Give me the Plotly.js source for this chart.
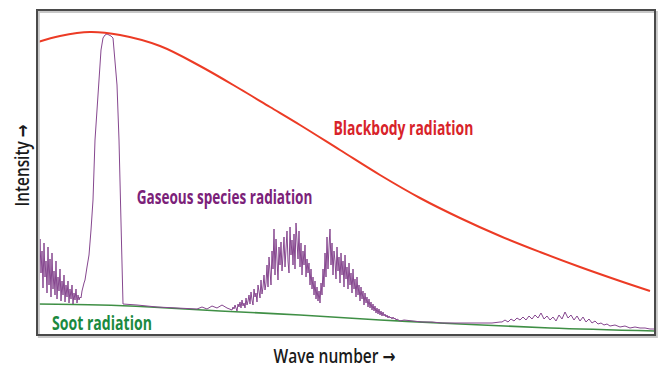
<!DOCTYPE html>
<html>
<head>
<meta charset="utf-8">
<script src="https://cdn.plot.ly/plotly-3.0.1.min.js"></script>
<style>html,body{margin:0;padding:0;background:#fff;}#chart{width:663px;height:368px;}</style>
</head>
<body>
<div id="chart"></div>
<script>
// Arbitrary units (no tick labels in the original)
const blackbodyX = [1, 23, 53, 83, 123, 163, 203, 233, 263, 303, 343, 383, 423, 463, 503, 543, 583, 613];
const blackbodyY = [293, 299, 303, 300, 289, 269, 246, 228, 210, 185, 160, 137, 117, 99, 83, 68, 54, 44];

const sootX = [0, 63, 113, 183, 263, 343, 423, 513, 618];
const sootY = [31, 30, 28, 24, 20, 15, 11, 7, 4];

// gaseous species spectrum: low-wavenumber band, strong band, mid hump, weak far hump
const gasLowX = [0,1,2,3,4,5,6,7,8,9,10,11,12,13,14,15,16,17,18,19,20,21,22,23,24,25,26,27,28,29,30,31,32,33,34,35,36,37,38,39,40,41,42,43,44,45];
const gasLowY = [70,108,55,96,62,84,47,92,58,74,42,88,50,76,38,82,46,64,40,74,36,58,44,66,34,54,40,60,33,50,38,54,32,46,36,50,31,42,35,46,32,40,35,38,37,44];

const gasBandX = [47,48,50,52,54,56,58,60,62,64,66,68,70,72,74,76,78,80,82,83,84,85,85.5,86,100,120,140,160,165,170,175,180,185,190];
const gasBandY = [52,55,68,80,105,135,195,230,255,285,297,300,301,300,299,297,275,250,195,150,100,60,32,31,30,28,27,26,28,26,29,27,30,27];

const gasMidX = [195,196,197,198,199,200,201,202,203,204,205,206,207,208,209,210,211,212,213,214,215,216,217,218,219,220,221,222,223,224,225,226,227,228,229,230,231,232,233,234,235,236,237,238,239,240,241,242,243,244,245,246,247,248,249,250,251,252,253,254,255,256,257,258,259,260,261,262,263,264,265,266,267,268,269,270,271,272,273,274,275,276,277,278,279,280,281,282,283,284,285,286,287,288,289,290,291,292,293,294,295,296,297,298,299,300,301,302,303,304,305,306,307,308,309,310,311,312,313,314,315,316,317,318,319,320,321,322,323,324,325,326,327,328,329,330,331,332,333,334,335,336,337,338,339,340,341,342,343,344,345,346,347,348,349,350,351,352,353,354,355,356,357,358,359,360,361,362,363];
const gasMidY = [25,28,26,30,27,24,31,28,33,27,35,29,32,27,37,30,34,40,31,43,35,30,46,38,42,33,50,44,37,55,41,48,60,45,52,70,48,78,58,50,84,66,106,60,96,72,55,88,70,93,64,80,98,68,86,104,74,62,108,80,95,70,101,66,112,85,76,104,68,92,60,84,70,90,58,76,62,72,50,66,46,58,40,54,36,48,34,44,32,52,40,66,48,82,58,98,66,88,106,70,92,60,84,74,56,88,64,78,52,82,60,74,48,80,56,68,46,72,50,62,42,66,46,56,38,58,40,50,34,48,36,44,30,42,32,38,28,36,27,33,25,31,24,29,22,27,21,26,20,24,19,23,19,21,18,20,17,19,17,18,16,18,16,17,15,16,15,15,14];

const gasHighX = [367,375,385,395,405,415,425,435,445,455,463,465,468,471,474,477,480,483,486,489,492,495,498,501,504,507,510,513,516,519,522,525,528,531,534,537,540,543,546,549,552,555,558,561,564,567,570,573,578,583,588,593,598,603,608,613,617];
const gasHighY = [15,14,13,13,12,12,12,12,12,12,13,13,15,13,16,14,17,15,18,15,19,16,20,17,22,16,19,15,18,14,20,16,23,17,20,15,19,14,18,13,16,12,14,11,12,10,11,9,10,8,9,7,8,7,7,6,6];

const gasX = gasLowX.concat(gasBandX, gasMidX, gasHighX);
const gasY = gasLowY.concat(gasBandY, gasMidY, gasHighY);

const labelFont = "'Open Sans', 'Noto Sans', 'DejaVu Sans', sans-serif";

const traces = [
  {x: sootX, y: sootY, type: 'scatter', mode: 'lines', line: {color: '#3f8f45', width: 1.6, shape: 'spline'}, hoverinfo: 'skip'},
  {x: gasX, y: gasY, type: 'scatter', mode: 'lines', line: {color: '#86478f', width: 1}, hoverinfo: 'skip'},
  {x: blackbodyX, y: blackbodyY, type: 'scatter', mode: 'lines', line: {color: '#ec3b25', width: 2, shape: 'spline'}, hoverinfo: 'skip'}
];

const layout = {
  width: 663, height: 368,
  margin: {l: 37, r: 8, t: 10, b: 33},
  paper_bgcolor: '#ffffff', plot_bgcolor: '#ffffff',
  showlegend: false,
  xaxis: {range: [0, 618], showgrid: false, zeroline: false, showticklabels: false, ticks: '', showline: false},
  yaxis: {range: [0, 325], showgrid: false, zeroline: false, showticklabels: false, ticks: '', showline: false},
  shapes: [
    {type: 'rect', xref: 'paper', yref: 'paper', x0: 0.003, x1: 1.003, y0: -0.006, y1: 0.994, line: {color: '#c8c8c8', width: 2}},
    {type: 'rect', xref: 'paper', yref: 'paper', x0: 0, x1: 1, y0: 0, y1: 1, line: {color: '#4a4a4a', width: 2}}
  ],
  annotations: [
    {text: 'Blackbody radiation', x: 0.593, y: 0.637, xref: 'paper', yref: 'paper', xanchor: 'center', yanchor: 'middle', showarrow: false,
     font: {family: labelFont, size: 20, color: '#d8232a', weight: 'bold'}},
    {text: 'Gaseous species radiation', x: 0.303, y: 0.427, xref: 'paper', yref: 'paper', xanchor: 'center', yanchor: 'middle', showarrow: false,
     font: {family: labelFont, size: 20, color: '#7b2179', weight: 'bold'}},
    {text: 'Soot radiation', x: 0.105, y: 0.04, xref: 'paper', yref: 'paper', xanchor: 'center', yanchor: 'middle', showarrow: false,
     font: {family: labelFont, size: 20, color: '#1b8a3f', weight: 'bold'}},
    {text: 'Wave number \u2192', x: 0.482, y: -0.066, xref: 'paper', yref: 'paper', xanchor: 'center', yanchor: 'middle', showarrow: false,
     font: {family: labelFont, size: 19, color: '#1a1a1a', weight: 600}},
    {text: 'Intensity \u2192', x: -0.024, y: 0.523, xref: 'paper', yref: 'paper', xanchor: 'center', yanchor: 'middle', showarrow: false, textangle: -90,
     font: {family: labelFont, size: 19, color: '#1a1a1a', weight: 600}}
  ]
};

// target text lengths (px) to mimic the condensed typeface of the original
const condensedWidths = [140, 176, 100, 122, 82];

Plotly.newPlot('chart', traces, layout, {displayModeBar: false, staticPlot: true}).then(function () {
  document.querySelectorAll('#chart g.annotation').forEach(function (g) {
    const i = +g.getAttribute('data-index');
    const t = g.querySelector('text.annotation-text');
    if (!t || !(i in condensedWidths)) return;
    const bb = t.getBBox();
    const s = condensedWidths[i] / bb.width;
    const cx = bb.x + bb.width / 2;
    const prev = t.getAttribute('transform') || '';
    t.setAttribute('transform', (prev + ' matrix(' + s + ',0,0,1,' + (cx * (1 - s)) + ',0)').trim());
  });
});
</script>
</body>
</html>
